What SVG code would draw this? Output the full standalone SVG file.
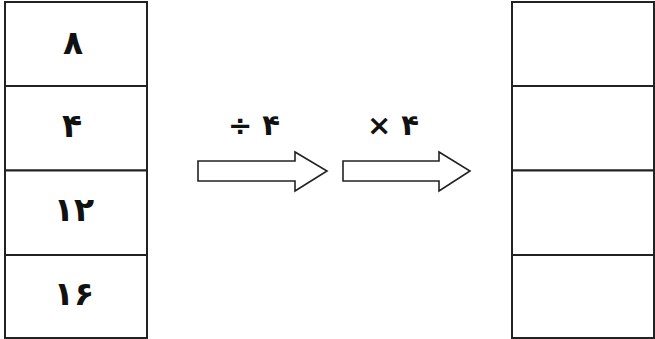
<svg xmlns="http://www.w3.org/2000/svg" width="655" height="339" viewBox="0 0 655 339">
<style>
.cell{fill:#fff;stroke:#222;stroke-width:2}
.num{font-family:"DejaVu Sans",sans-serif;font-weight:bold;font-size:33px;text-anchor:middle;fill:#111}
.arrow{fill:#fff;stroke:#222;stroke-width:1.6;stroke-linejoin:miter}
.op{font-family:"DejaVu Sans",sans-serif;font-weight:bold;font-size:29px;text-anchor:middle;fill:#111}
</style>
<rect width="655" height="339" fill="#fff"/>
<g id="left-table">
<rect class="cell" x="5" y="2" width="142" height="84"/>
<rect class="cell" x="5" y="86" width="142" height="84.5"/>
<rect class="cell" x="5" y="170.5" width="142" height="84.5"/>
<rect class="cell" x="5" y="255" width="142" height="83"/>
<text class="num" x="73" y="54">۸</text>
<text class="num" x="72" y="137">۴</text>
<text class="num" x="74" y="221">۱۲</text>
<text class="num" x="74" y="305">۱۶</text>
</g>
<g id="right-table">
<rect class="cell" x="512" y="2" width="142" height="84"/>
<rect class="cell" x="512" y="86" width="142" height="84.5"/>
<rect class="cell" x="512" y="170.5" width="142" height="84.5"/>
<rect class="cell" x="512" y="255" width="142" height="83"/>
</g>
<g id="connectors">
<path class="arrow" d="M198,161 H295 V152 L327,171 L295,191 V181 H198 Z"/>
<path class="arrow" d="M343,161 H439 V152 L470,171 L439,191 V181 H343 Z"/>
<text class="op" x="254" y="135">÷ ۴</text>
<text class="op" x="393" y="135">× ۴</text>
</g>
</svg>
